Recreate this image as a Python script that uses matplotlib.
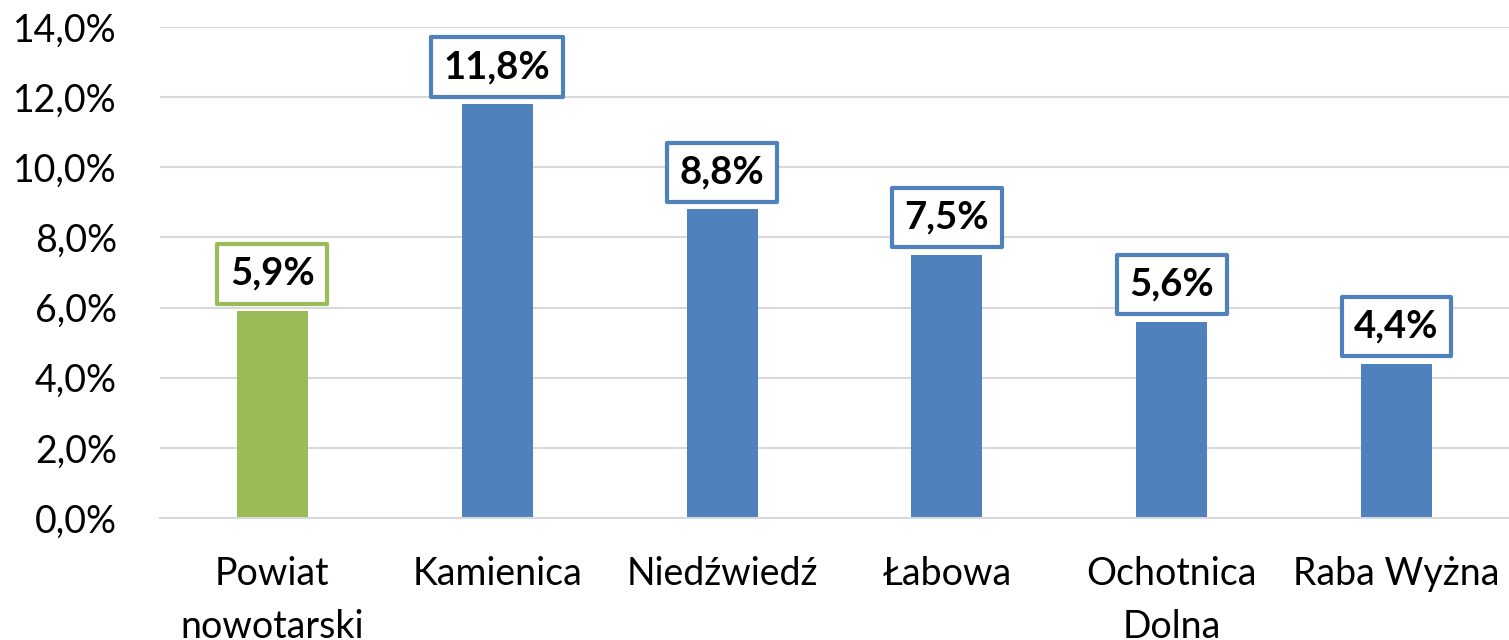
import matplotlib.pyplot as plt
from matplotlib.ticker import FuncFormatter

# data
categories = ["Powiat\nnowotarski", "Kamienica", "Niedźwiedź", "Łabowa", "Ochotnica\nDolna", "Raba Wyżna"]
values = [5.9, 11.8, 8.8, 7.5, 5.6, 4.4]
bar_colors = ["#9BBB59", "#4F81BD", "#4F81BD", "#4F81BD", "#4F81BD", "#4F81BD"]
y_ticks = [0, 2, 4, 6, 8, 10, 12, 14]

plt.rcParams['font.family'] = ['Lato', 'DejaVu Sans']

fig = plt.figure(figsize=(15.09, 6.4), dpi=100)
ax = fig.add_axes([0.106, 0.1906, 0.894, 0.7672])

x = range(len(categories))
ax.bar(x, values, width=0.316, color=bar_colors, zorder=2)

# boxed value labels above bars
for i, v in enumerate(values):
    ax.annotate(f"{v:.1f}%".replace(".", ","), xy=(i, v), xytext=(0, 14.5),
                textcoords="offset points", ha="center", va="bottom",
                fontsize=27.5, fontweight="bold", color="black", zorder=3,
                bbox=dict(boxstyle="square,pad=0.33", facecolor="white",
                          edgecolor=bar_colors[i], linewidth=3, joinstyle="round"))

ax.set_xlim(-0.5, len(categories) - 0.5)
ax.set_ylim(0, 14)
ax.set_yticks(y_ticks)
ax.yaxis.set_major_formatter(FuncFormatter(lambda v, p: f"{v:.1f}%".replace(".", ",")))
ax.set_xticks(list(x))
ax.set_xticklabels(categories, linespacing=1.6)

ax.grid(axis="y", color="#D9D9D9", linewidth=1.5, zorder=0)
ax.set_axisbelow(True)
for s in ["top", "right", "left"]:
    ax.spines[s].set_visible(False)
ax.spines["bottom"].set_color("#D9D9D9")
ax.spines["bottom"].set_linewidth(1.5)

ax.tick_params(axis="y", length=0, pad=31, labelsize=27)
ax.tick_params(axis="x", length=0, pad=27, labelsize=27)

fig.savefig("out.png", dpi=100)
